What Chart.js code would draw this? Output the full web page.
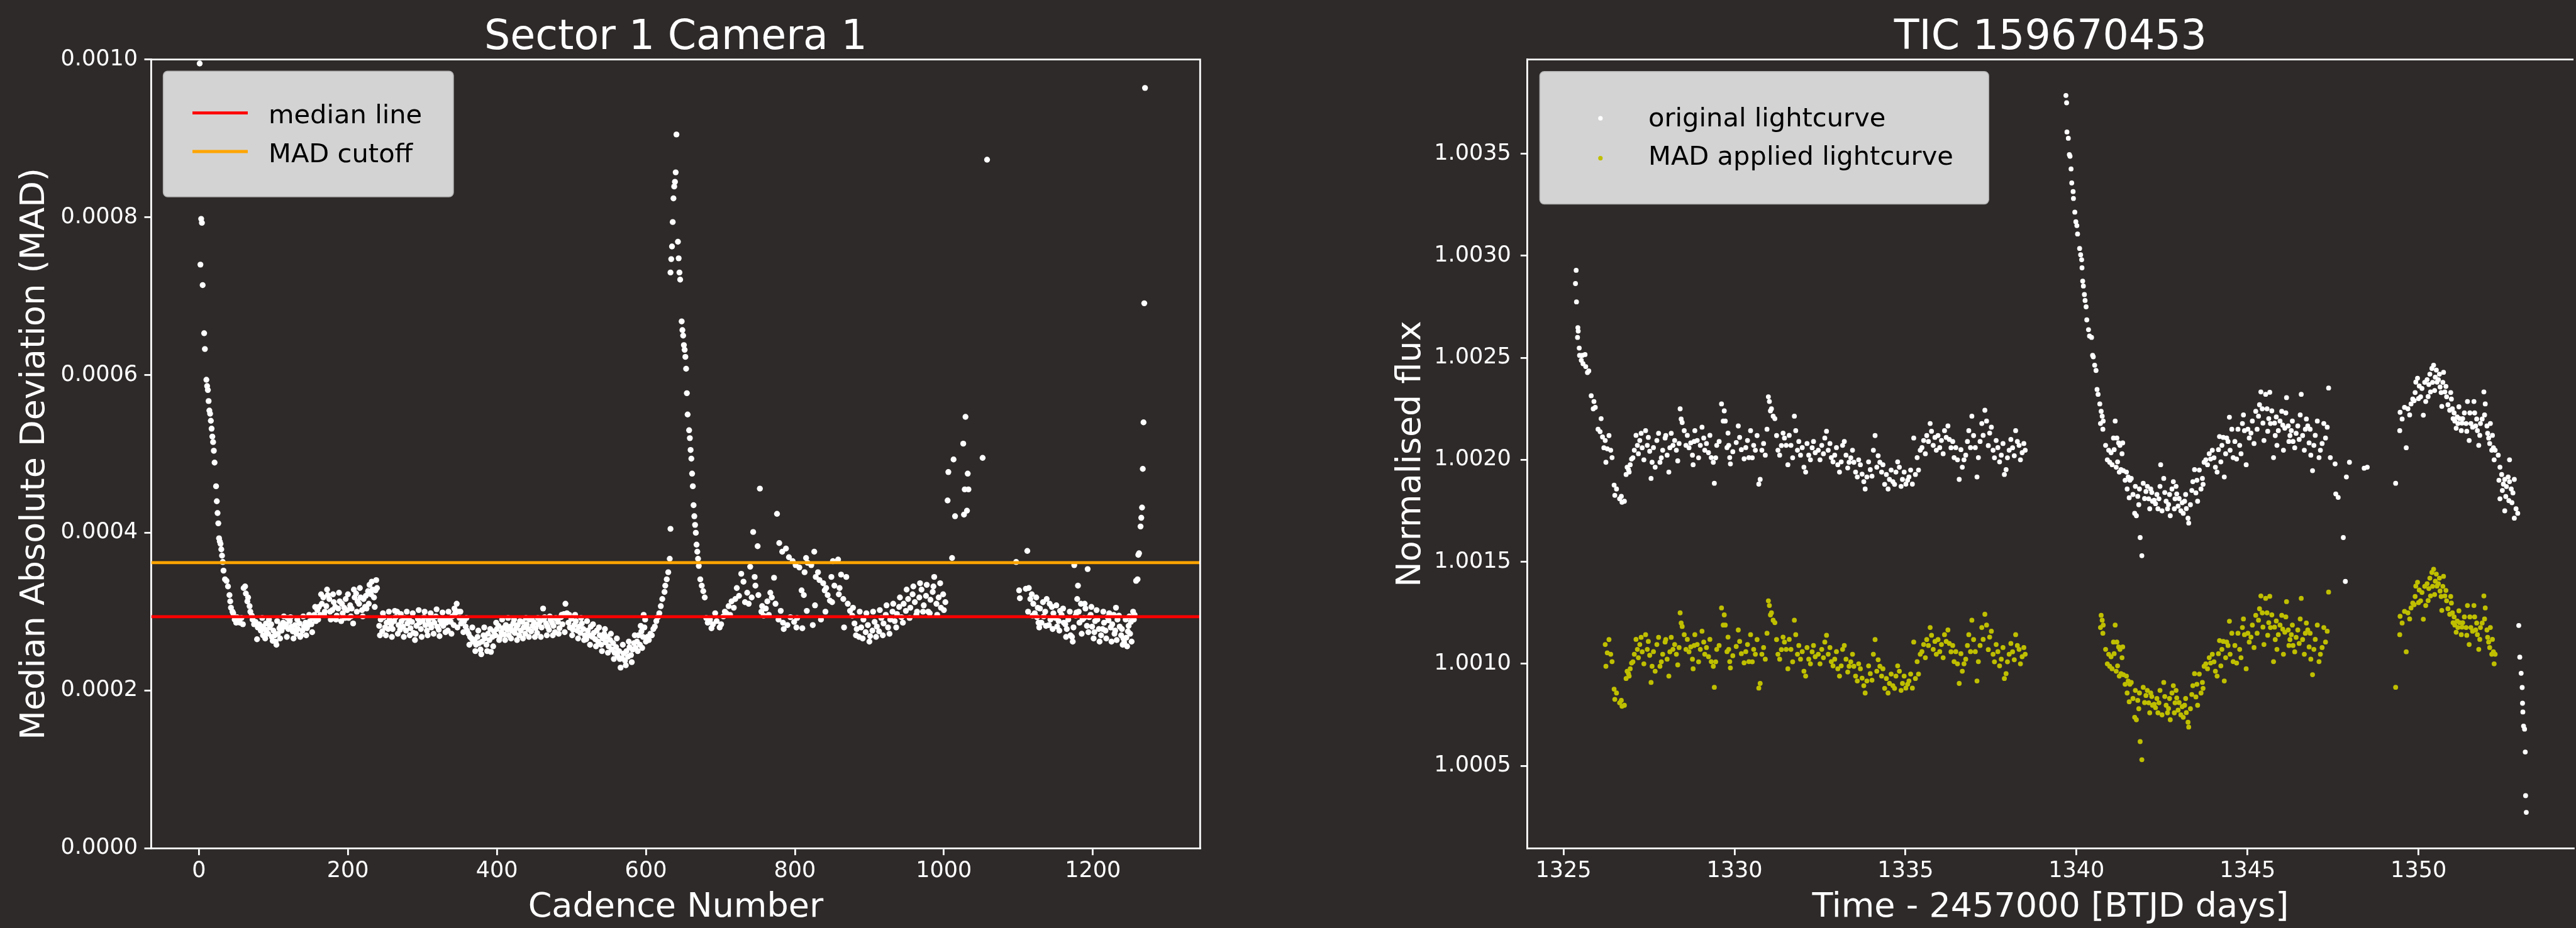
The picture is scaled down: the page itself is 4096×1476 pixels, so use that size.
<!DOCTYPE html>
<html>
<head>
<meta charset="utf-8">
<title>Sector 1 Camera 1 / TIC 159670453</title>
<script src="https://cdn.jsdelivr.net/npm/chart.js@4.4.0/dist/chart.umd.min.js"></script>
<style>
  html, body { margin: 0; padding: 0; background: #2e2a29; }
  body { width: 4096px; height: 1476px; position: relative; overflow: hidden; }
  canvas { position: absolute; top: 0; }
  #madChart { left: 0; }
  #lcChart { left: 2100px; }
</style>
</head>
<body>
<canvas id="madChart" width="2000" height="1476"></canvas>
<canvas id="lcChart" width="1996" height="1476"></canvas>
<script>
'use strict';
//___________LEFT PANEL DATA: [cadence, MAD x 1e6]__________________
var madDecline = [[1,995],[2,740],[3,798],[4,793],[5,714],[7,653],[8,633],[10,594],[11,586],[12,581],[13,567],[14,555],[15,551],[16,542],[17,532],[18,522],[19,515],[20,504],[21,489],[23,459],[24,440],[25,425],[26,412],[27,393],[28,389],[29,386],[30,379],[31,371],[32,363],[33,352],[35,341],[37,339],[39,332],[41,321]];
var madBand1 = [[42,313],[43,305],[45,300],[46,298],[48,290],[50,286],[51,293],[53,288],[55,286],[57,292],[59,284],[60,330],[62,332],[63,323],[65,313],[66,318],[68,307],[69,300],[71,295],[72,290],[74,284],[76,287],[78,265],[79,280],
  [81,284],[83,276],[85,281],[86,270],[88,278],[90,285],[91,274],[93,272],[95,280],[97,284],[98,268],[100,276],[102,270],[103,262],[104,258],[106,272],[108,279],[110,283],[111,276],[113,286],[115,281],
  [117,284],[119,292],[120,278],[122,288],[124,281],[126,275],[128,276],[129,283],[131,272],[133,278],[135,285],[137,270],[139,276],[141,281],[143,286],[145,279],[147,283],[149,288],
  [151,284],[153,292],[155,296],[157,288],[159,302],[161,306],[163,296],[165,310],[167,318],[169,300],[171,307],[173,321],[175,316],[177,290],[179,302],[181,312],[183,306],[185,295],[187,304],[189,313],[191,288],[193,298],[195,305],[197,316],[199,302],[201,292],[203,308],[205,304],[207,285],[209,318],[211,323],[213,313],[215,310],[217,318],[219,302],[221,316],[223,306],[225,304],[227,326],[229,334],[231,322],[233,328],[235,318],[237,327],[239,330]];
var madBand2 = [[242,282],[244,290],[246,275],[248,293],[250,280],[252,286],[254,278],[256,290],[258,284],[260,278],[262,288],[264,293],[266,300],[268,283],[270,277],[272,288],[274,281],[276,292],[278,276],[280,285],[282,290],[284,279],[286,287],[288,273],[290,264],[292,282],[294,291],[296,286],[298,278],[300,288],[302,293],[304,283],[306,276],[308,289],[310,284],[312,280],[314,292],[316,286],[318,294],[320,281],[322,277],[324,289],[326,285],[328,282],[330,290],[332,286],[334,276],[336,291],[338,287],[340,294],[342,283],[344,298],[346,310],
  [348,300],[350,292],[352,285],[354,290],[356,288],[358,281],[360,276],[362,272],[364,268],[366,266],[368,262],[370,264],[372,258],[374,268],[376,260],[378,252],[380,262],[382,270],[384,266],[386,258],[388,272],[390,264],[392,249],[394,268],[396,275],[398,270],
  [400,278],[402,282],[404,268],[406,274],[408,279],[410,271],[412,283],[414,277],[416,270],[418,281],[420,276],[422,285],[424,273],[426,279],[428,283],[430,270],[432,276],[434,287],[436,280],[438,272],[440,284],[442,278],[444,290],[446,275],[448,282],[450,286],[452,279],[454,273],[456,284],[458,288],[460,280],[462,304],[464,293],[466,285],[468,281],[470,277],[472,290],[474,286],[476,282],[478,274],[480,291],[482,287],[484,279],[486,293],[488,284],[490,297],[492,310],[494,298],
  [496,286],[498,280],[500,291],[502,277],[504,283],[506,288],[508,276],[510,281],[512,273],[514,285],[516,278],[518,270],[520,265],[522,276],[524,270],[526,281],[528,268],[530,273],[532,265],[534,276],[536,262],[538,270],[540,258],[542,266],[544,272],[546,261],[548,268],[550,256],[552,264],[554,252],[556,260],[558,248],[560,255],[562,244],[564,250],[566,229],[568,241],[570,247],[572,238],[574,250],[576,243],[578,255],[580,245],[582,252],[584,260],[586,254],[588,262],[590,270],[592,258],[594,275],[596,268],[597,296],[598,280],
  [600,262],[602,268],[604,264],[606,272],[608,270],[610,278],[612,281],[614,288],[616,293],[618,298],[620,307],[622,316],[625,325],[626,333],[628,341],[630,350],[632,367],[633,405]];
var madSpike = [[633,730],[634,747],[635,763],[636,794],[637,824],[638,839],[639,845],[640,857],[641,905],[643,769],[644,748],[645,730],[646,721],[648,668],[649,657],[650,650],[651,638],[652,632],[653,623],[654,608],[655,577],[656,550],[658,530],[659,520],[660,505],[661,494],[662,475],[663,459],[664,435],[665,421],[666,410],[667,400],[668,385],[669,376],[670,367],[671,358],[673,341],[675,333],[677,326],[679,318]];
var madBand3 = [[681,292],[683,286],[686,290],[688,279],[690,284],[693,298],[695,288],[699,280],[701,284],[704,294],[706,300],[708,298],[711,307],[713,296],[715,313],[718,305],[720,316],[722,330],[725,320],[728,348],[731,338],[733,312],[736,324],[738,310],[740,357],[742,318],[744,401],[746,344],[747,333],[750,383],[751,321],[753,456],[755,300],[756,307],[758,295],[761,304],[763,313],[765,296],[767,324],[769,318],[772,343],[774,310],[776,424],[778,290],[779,387],[781,301],[783,376],[784,286],[785,278],[788,380],[790,283],[792,369],[794,293],[797,364],[799,287],[801,359],[802,280],[803,292],[806,356],[809,327],[810,279],[812,321],[813,350],[815,368],[816,301],[817,362],[822,359],[824,283],[826,376],[827,308],[828,344],[831,350],[833,340],[835,290],[838,336],[840,327],[841,300],[842,330],[844,321],[847,314],[849,344],[850,312],[851,364],[853,333],[858,366],[859,322],[860,330],[862,347],[865,316],[866,280],[869,344],[871,310],[874,301],
  [877,295],[880,285],[883,278],[886,268],[889,280],[892,290],[895,274],[898,283],[901,269],[904,276],[907,287],[910,281],[913,275],[916,292],[919,285],[922,296],[925,280],[928,290],[931,300],[934,288],[937,297],[940,306],[943,293],[946,310],[949,301],[952,316],
  [955,305],[958,322],[961,312],[964,300],[967,318],[970,328],[973,308],[976,320],[979,300],[982,315],[985,325],[987,344],[990,310],[993,318],[996,305],[999,322],[1002,312],
  [1005,441],[1006,477],[1011,368],[1013,493],[1015,421],[1026,513],[1027,423],[1028,455],[1029,547],[1031,428],[1032,475],[1033,455],[1052,495],[1058,873]];
var madBand4 = [[1097,363],[1101,327],[1102,317],[1110,329],[1112,377],[1113,300],[1116,316],[1118,322],[1120,310],[1122,298],[1125,293],[1126,305],[1127,286],[1129,304],[1131,286],[1134,294],[1136,300],[1138,316],[1141,283],[1143,290],[1145,306],[1147,298],[1150,292],[1152,281],[1154,288],[1156,301],[1158,296],[1161,286],[1163,284],[1165,278],[1167,290],[1170,270],[1172,268],[1174,280],[1175,359],[1177,295],[1178,299],[1179,316],[1180,333],[1182,286],[1184,310],[1186,290],[1188,292],[1190,304],[1192,282],[1193,354],[1195,293],[1197,296],[1199,281],[1202,274],[1203,288],[1206,290],[1208,278],[1211,270],[1213,278],[1215,286],[1217,276],[1220,293],[1221,289],[1224,280],[1226,284],[1229,272],[1230,276],[1231,305],[1233,290],[1236,281],[1238,270],[1239,278],[1241,266],[1242,261],[1245,267],[1247,275],[1248,282],[1250,272],[1251,287],[1254,300],[1255,290],
  [1258,339],[1260,341],[1261,372],[1262,374],[1264,408],[1265,419],[1266,432],[1267,481],[1268,540],[1269,691],[1270,964]];
var madBandSpread = [[85,292],[89,266],[94,290],[99,263],[105,288],[109,266],[114,294],[118,268],[123,293],[127,266],[132,290],[136,268],[140,294],[144,270],[148,296],
  [152,274],[156,306],[160,290],[164,322],[168,296],[172,328],[176,300],[180,322],[184,290],[188,324],[192,310],[196,292],[200,322],[204,294],[208,328],[212,300],[216,330],[220,294],[224,320],[228,310],[232,338],[236,306],[238,340],
  [243,270],[247,298],[251,270],[255,300],[259,268],[263,301],[267,272],[271,297],[275,268],[279,300],[283,270],[287,298],[291,272],[295,302],[299,268],[303,300],[307,270],[311,298],[315,272],[319,303],[323,269],[327,299],[331,274],[335,300],[339,272],[343,304],
  [347,280],[351,300],[355,274],[359,292],[363,258],[367,280],[371,250],[375,276],[379,246],[383,280],[387,250],[391,278],[395,256],[399,286],
  [403,264],[407,290],[411,264],[415,292],[419,266],[423,290],[427,264],[431,288],[435,266],[439,292],[443,268],[447,290],[451,268],[455,292],[459,268],[463,290],[467,270],[471,294],[475,270],[479,292],[483,272],[487,296],[491,274],
  [497,296],[501,270],[505,296],[509,266],[513,292],[517,264],[521,288],[525,258],[529,284],[533,256],[537,280],[541,250],[545,278],[549,248],[553,272],[557,240],[561,266],[565,240],[569,258],[573,232],[577,262],[581,236],[585,270],[589,250],[593,282],[595,254],[599,290],
  [878,305],[882,270],[887,300],[891,266],[896,298],[900,262],[905,300],[909,268],[914,302],[918,270],[923,308],[927,272],[932,310],[936,280],[941,318],[945,286],[950,328],[954,292],[959,332],[963,296],[968,336],[972,300],[977,334],[981,298],[986,332],[991,296],[995,336],[1000,302],
  [1114,330],[1119,295],[1124,318],[1128,280],[1133,312],[1137,282],[1142,310],[1146,278],[1151,308],[1155,276],[1160,304],[1164,268],[1169,300],[1173,262],[1181,300],[1185,272],[1189,310],[1194,274],[1198,306],[1201,266],[1205,302],[1209,262],[1214,300],[1218,266],[1222,298],[1225,262],[1228,296],[1232,264],[1235,295],[1240,258],[1244,290],[1246,256],[1249,294],[1252,262],[1256,296]];
var medianMad = 0.0002936;
var madCutoff = 0.0003621;

//___________RIGHT PANEL DATA: [BTJD, (flux - 1) x 1e6]__________________
var origOrbit1 = [[1325.35,2864],[1325.37,2929],[1325.38,2774],[1325.41,2600],[1325.42,2648],[1325.43,2631],[1325.46,2548],[1325.47,2512],[1325.52,2488],[1325.55,2512],[1325.57,2471],[1325.63,2516],[1325.65,2457],[1325.70,2428],[1325.74,2436],[1325.81,2314],[1325.87,2250],[1325.89,2286],[1325.93,2257],[1326.01,2150],[1326.07,2138],[1326.10,2202],[1326.14,2112],[1326.18,2059],
  [1326.22,2095],[1326.24,1988],[1326.28,2054],[1326.33,2119],[1326.38,2047],[1326.42,2011],[1326.48,1876],[1326.50,1826],[1326.55,1857],[1326.64,1809],[1326.69,1821],[1326.71,1792],[1326.78,1797],[1326.83,1928],[1326.86,1964],[1326.90,1952],[1326.92,1940],[1326.95,1976],[1326.99,2004],[1327.07,2047],[1327.16,2071],[1327.23,2095],[1327.30,2059],[1327.40,2143],[1327.45,2071],[1327.52,2042],[1327.56,1909],[1327.59,1988],[1327.68,1964],[1327.73,2095],[1327.82,1988],[1327.90,2047],[1327.97,2107],[1327.99,2119],[1328.03,2023],[1328.08,1940],[1328.11,2059],[1328.20,2071],[1328.25,2095],[1328.30,2047],[1328.34,1995],[1328.41,2250],[1328.47,2183],[1328.53,2143],[1328.58,2071],[1328.67,2059],[1328.72,2083],[1328.77,2023],[1328.79,1976],[1328.84,2143],[1328.91,2095],[1329.00,2071],[1329.10,2107],[1329.13,2047],[1329.24,2035],[1329.32,2011],[1329.38,1988],[1329.41,1885],[1329.48,2071],[1329.62,2274],[1329.67,2190],[1329.73,2190],[1329.81,2131],[1329.83,2071],[1329.86,2011],[1329.88,1980],[1329.95,2040],[1330.05,2085],[1330.11,2166],[1330.20,2050],[1330.28,2005],
  [1330.38,2095],[1330.42,2011],[1330.47,2143],[1330.56,2071],[1330.61,2047],[1330.66,2119],[1330.71,1881],[1330.75,1904],[1330.80,2047],[1330.90,2023],[1330.99,2309],[1331.02,2286],[1331.08,2250],[1331.13,2214],[1331.18,2202],[1331.23,2119],[1331.27,2047],[1331.32,2023],[1331.42,2131],[1331.46,2107],[1331.51,2071],[1331.56,1976],[1331.65,2071],[1331.75,2214],[1331.79,2143],[1331.84,2047],[1331.93,2023],[1332.03,1964],[1332.08,1940],[1332.17,2023],[1332.27,2059],[1332.36,2035],[1332.45,2047],[1332.55,2071],[1332.64,2107],[1332.74,2047],[1332.83,2011],[1332.93,2023],[1333.02,1976],[1333.07,1940],[1333.16,2071],[1333.26,2023],[1333.35,1988],[1333.45,2047],[1333.49,1988],[1333.54,1940],[1333.59,1916],[1333.68,1976],[1333.78,1893],[1333.82,1857],[1333.87,1916],[1333.97,1952],[1334.06,2047],[1334.11,2119],[1334.16,1964],[1334.25,1988],[1334.30,1940],[1334.34,1976],[1334.44,1928],[1334.49,1857],[1334.53,1904],[1334.63,1893],[1334.72,1940],[1334.82,1964],[1334.91,1904],[1335.01,1881],[1335.10,1916],[1335.20,1881],
  [1335.24,2107],[1335.29,1928],[1335.34,2011],[1335.43,2047],[1335.53,2095],[1335.62,2119],[1335.72,2178],[1335.81,2071],[1335.90,2047],[1335.95,2119],[1336.05,2095],[1336.14,2143],[1336.24,2166],[1336.33,2059],[1336.42,2011],[1336.52,2000],[1336.57,1904],[1336.66,1964],[1336.76,2023],[1336.85,2143],[1336.94,2214],[1336.99,2119],[1337.09,1916],[1337.13,2011],[1337.23,2178],[1337.32,2243],[1337.37,2190],[1337.46,2131],[1337.56,2047],[1337.65,2095],[1337.80,2023],[1337.89,1928],[1337.94,1952],[1338.03,2047],[1338.13,2059],[1338.22,2143],[1338.32,2071],[1338.41,2035],[1338.50,2047]];
var origExtra1 = [[1327.03,2010],[1327.12,2120],[1327.19,2030],[1327.27,2130],[1327.35,2000],[1327.48,2110],[1327.63,2060],[1327.78,2130],[1327.86,2010],[1328.15,2130],[1328.38,2080],[1328.44,2200],[1328.62,2120],[1328.82,2090],[1328.95,2010],[1329.05,2160],[1329.18,2080],[1329.28,2120],[1329.45,2010],[1329.55,2090],[1329.70,2240],[1329.78,2060],[1330.15,2110],[1330.33,2060],[1330.52,2010],[1330.85,2080],[1330.95,2150],[1331.05,2240],[1331.37,2070],[1331.60,2120],[1331.70,2010],[1331.88,2090],[1331.98,2060],[1332.12,2080],[1332.22,2000],[1332.31,2090],[1332.50,2000],[1332.60,2030],[1332.69,2140],[1332.79,2080],[1332.88,1990],[1332.98,2060],[1333.12,1990],[1333.21,2090],[1333.31,1960],[1333.40,2010],[1333.63,2000],[1333.73,1930],[1333.92,1990],[1334.02,1920],[1334.20,2020],[1334.39,1880],[1334.58,1950],[1334.68,1880],[1334.77,1990],[1334.87,1870],[1334.96,1940],[1335.06,1900],[1335.15,1950],[1335.38,1950],[1335.48,2060],[1335.58,2030],[1335.67,2090],[1335.76,2140],[1335.86,2110],[1336.00,2060],[1336.10,2030],[1336.19,2110],[1336.28,2100],[1336.38,2090],[1336.47,2060],[1336.62,2050],[1336.71,2000],[1336.81,2090],[1336.90,2060],[1337.04,2060],[1337.18,2090],[1337.27,2120],[1337.42,2070],[1337.51,2160],[1337.60,2010],[1337.70,2060],[1337.75,1990],[1337.85,2080],[1337.98,2010],[1338.08,2100],[1338.18,2020],[1338.27,2090],[1338.36,2000],[1338.46,2080]];
var origOrbit2 = [[1339.69,3786],[1339.71,3750],[1339.72,3607],[1339.76,3576],[1339.79,3496],[1339.81,3488],[1339.84,3426],[1339.86,3357],[1339.90,3315],[1339.91,3281],[1339.95,3214],[1339.98,3167],[1340.01,3148],[1340.03,3107],[1340.09,3036],[1340.12,3005],[1340.15,2981],[1340.16,2941],[1340.18,2876],[1340.20,2852],[1340.23,2810],[1340.25,2781],[1340.28,2750],[1340.30,2686],[1340.35,2638],[1340.38,2607],[1340.44,2600],[1340.47,2512],[1340.49,2505],[1340.53,2464],[1340.57,2438],[1340.60,2345],[1340.63,2321],[1340.68,2274],
  [1340.70,2178],[1340.72,2238],[1340.75,2214],[1340.77,2150],[1340.78,2190],[1340.85,2071],[1340.90,2000],[1340.94,2047],[1340.97,1988],[1341.01,2035],[1341.04,1976],[1341.08,2107],[1341.13,2190],[1341.16,1964],[1341.18,2107],[1341.23,2083],[1341.25,1940],[1341.27,2071],[1341.30,1952],[1341.35,2083],[1341.37,1947],[1341.46,1940],[1341.48,1857],[1341.51,1916],[1341.54,1814],[1341.56,1900],[1341.60,1909],[1341.70,1738],[1341.75,1726],[1341.79,1821],[1341.84,1857],[1341.86,1619],[1341.91,1530],[1341.95,1885],[1342.03,1845],[1342.11,1809],[1342.17,1857],[1342.22,1797],[1342.27,1802],[1342.31,1785],[1342.41,1809],[1342.46,1976],[1342.50,1750],[1342.55,1909],[1342.62,1797],[1342.69,1781],[1342.74,1726],[1342.79,1857],[1342.83,1893],[1342.88,1809],[1342.93,1833],[1342.97,1773],[1343.05,1750],[1343.12,1738],[1343.16,1797],[1343.21,1761],[1343.26,1714],[1343.28,1690],
  [1343.40,1893],[1343.45,1952],[1343.49,1838],[1343.54,1797],[1343.64,1857],[1343.68,1909],[1343.73,1988],[1343.78,2000],[1343.83,1976],[1343.92,2004],[1343.97,2047],[1344.06,1964],[1344.11,1940],[1344.18,2114],[1344.25,2071],[1344.32,1916],[1344.39,2107],[1344.47,2209],[1344.49,2047],[1344.58,2011],[1344.68,2004],[1344.77,2071],[1344.85,2178],[1344.91,2143],[1344.96,1976],[1345.05,2107],[1345.10,2131],[1345.24,2238],[1345.32,2214],[1345.39,2333],[1345.43,2250],[1345.48,2095],[1345.53,2321],[1345.57,2250],[1345.62,2202],[1345.65,2331],[1345.67,2178],[1345.76,2011],[1345.81,2119],[1345.86,2071],[1345.90,2143],[1346.00,2238],[1346.05,2047],[1346.09,2155],[1346.14,2305],[1346.19,2166],[1346.24,2119],[1346.28,2143],[1346.33,2090],[1346.38,2059],[1346.47,2166],[1346.57,2321],[1346.61,2119],[1346.66,2047],[1346.76,2166],[1346.80,2083],[1346.85,2023],[1346.90,1947],[1346.94,2071],[1347.09,2011],[1347.13,2047],[1347.23,2178],[1347.28,2107],[1347.37,2352],
  [1347.42,2011],[1347.56,1980],[1347.58,1833],[1347.65,1816],[1347.80,1619],[1347.86,1404],[1347.89,1916],[1347.98,1988],[1348.41,1959],[1348.50,1964],
  [1349.33,1885],[1349.45,2143],[1349.64,2059],[1349.46,2233],[1349.59,2257],[1349.69,2250],[1349.78,2274],[1349.83,2298],[1349.87,2290],[1349.92,2381],[1349.97,2400],[1350.02,2362],[1350.06,2309],[1350.14,2219],[1350.21,2286],[1350.25,2393],[1350.30,2369],[1350.35,2333],[1350.39,2448],[1350.44,2464],[1350.49,2405],[1350.54,2381],[1350.58,2393],[1350.63,2357],[1350.68,2262],[1350.73,2429],[1350.77,2333],[1350.82,2309],[1350.91,2243],[1350.96,2298],[1351.01,2202],[1351.06,2190],[1351.10,2155],[1351.15,2178],[1351.20,2202],[1351.25,2143],[1351.29,2202],[1351.39,2178],[1351.43,2286],[1351.48,2095],[1351.53,2178],[1351.62,2286],[1351.67,2166],[1351.72,2143],[1351.76,2071],[1351.81,2178],[1351.91,2333],[1351.95,2274],[1352.00,2166],[1352.05,2107],[1352.10,2178],[1352.14,2047],[1352.19,2059],[1352.24,2047],
  [1352.33,2023],[1352.38,1964],[1352.43,1928],[1352.48,1881],[1352.52,1904],[1352.57,1869],[1352.62,1916],[1352.66,1893],[1352.71,1857],[1352.76,1838],[1352.80,1904],[1352.38,1809],[1352.52,1750],[1352.66,2000],[1352.80,1714],[1352.90,1738],
  [1352.93,1188],[1352.96,1033],[1353.00,954],[1353.03,884],[1353.04,807],[1353.05,764],[1353.07,695],[1353.10,680],[1353.12,568],[1353.13,354],[1353.15,272]];
var origExtra2 = [[1341.10,2050],[1341.20,1990],[1341.33,2030],[1341.42,1900],[1341.65,1830],[1341.72,1870],[1341.82,1780],[1341.99,1810],[1342.07,1870],[1342.14,1760],[1342.20,1840],[1342.35,1830],[1342.38,1760],[1342.44,1870],[1342.58,1840],[1342.66,1760],[1342.72,1830],[1342.86,1760],[1342.91,1870],[1343.00,1810],[1343.09,1790],[1343.19,1830],[1343.33,1780],[1343.37,1850],[1343.52,1900],[1343.59,1950],[1343.70,1880],[1343.88,2030],[1344.02,2010],[1344.15,2050],[1344.22,1990],[1344.29,2110],[1344.36,2030],[1344.43,2090],[1344.54,2150],[1344.63,2090],[1344.72,2150],[1344.81,2030],[1344.88,2220],[1345.01,2150],[1345.14,2190],[1345.19,2080],[1345.28,2150],[1345.35,2270],[1345.45,2180],[1345.59,2140],[1345.71,2240],[1345.79,2180],[1345.84,2210],[1345.95,2190],[1346.03,2170],[1346.12,2230],[1346.21,2090],[1346.31,2190],[1346.42,2130],[1346.51,2100],[1346.54,2220],[1346.69,2150],[1346.72,2200],[1346.83,2150],[1346.98,2120],[1347.04,2190],[1347.18,2080],[1347.33,2160],
  [1349.52,2200],[1349.74,2220],[1349.90,2330],[1350.00,2300],[1350.10,2350],[1350.18,2380],[1350.28,2310],[1350.33,2420],[1350.41,2380],[1350.47,2340],[1350.52,2440],[1350.61,2420],[1350.66,2330],[1350.71,2380],[1350.80,2360],[1350.86,2270],[1350.94,2330],[1350.99,2250],[1351.04,2230],[1351.13,2210],[1351.18,2260],[1351.27,2180],[1351.34,2230],[1351.41,2140],[1351.50,2230],[1351.58,2160],[1351.64,2230],[1351.70,2200],[1351.79,2120],[1351.86,2200],[1351.93,2220],[1352.02,2130],[1352.08,2080],[1352.16,2120],[1352.21,2000],
  [1352.35,1900],[1352.45,1850],[1352.55,1820],[1352.64,1800],[1352.73,1790],[1352.85,1760]];
var madOrbit1 = [[1326.22,1095],[1326.24,988],[1326.28,1054],[1326.33,1119],[1326.38,1047],[1326.42,1011],[1326.48,876],[1326.50,826],[1326.55,857],[1326.64,809],[1326.69,821],[1326.71,792],[1326.78,797],[1326.83,928],[1326.86,964],[1326.90,952],[1326.92,940],[1326.95,976],[1326.99,1004],[1327.07,1047],[1327.16,1071],[1327.23,1095],[1327.30,1059],[1327.40,1143],[1327.45,1071],[1327.52,1042],[1327.56,909],[1327.59,988],[1327.68,964],[1327.73,1095],[1327.82,988],[1327.90,1047],[1327.97,1107],[1327.99,1119],[1328.03,1023],[1328.08,940],[1328.11,1059],[1328.20,1071],[1328.25,1095],[1328.30,1047],[1328.34,995],[1328.41,1250],[1328.47,1183],[1328.53,1143],[1328.58,1071],[1328.67,1059],[1328.72,1083],[1328.77,1023],[1328.79,976],[1328.84,1143],[1328.91,1095],[1329.00,1071],[1329.10,1107],[1329.13,1047],[1329.24,1035],[1329.32,1011],[1329.38,988],[1329.41,885],[1329.48,1071],[1329.62,1274],[1329.67,1190],[1329.73,1190],[1329.81,1131],[1329.83,1071],[1329.86,1011],[1329.88,980],[1329.95,1040],[1330.05,1085],[1330.11,1166],[1330.20,1050],[1330.28,1005],
  [1330.38,1095],[1330.42,1011],[1330.47,1143],[1330.56,1071],[1330.61,1047],[1330.66,1119],[1330.71,881],[1330.75,904],[1330.80,1047],[1330.90,1023],[1330.99,1309],[1331.02,1286],[1331.08,1250],[1331.13,1214],[1331.18,1202],[1331.23,1119],[1331.27,1047],[1331.32,1023],[1331.42,1131],[1331.46,1107],[1331.51,1071],[1331.56,976],[1331.65,1071],[1331.75,1214],[1331.79,1143],[1331.84,1047],[1331.93,1023],[1332.03,964],[1332.08,940],[1332.17,1023],[1332.27,1059],[1332.36,1035],[1332.45,1047],[1332.55,1071],[1332.64,1107],[1332.74,1047],[1332.83,1011],[1332.93,1023],[1333.02,976],[1333.07,940],[1333.16,1071],[1333.26,1023],[1333.35,988],[1333.45,1047],[1333.49,988],[1333.54,940],[1333.59,916],[1333.68,976],[1333.78,893],[1333.82,857],[1333.87,916],[1333.97,952],[1334.06,1047],[1334.11,1119],[1334.16,964],[1334.25,988],[1334.30,940],[1334.34,976],[1334.44,928],[1334.49,857],[1334.53,904],[1334.63,893],[1334.72,940],[1334.82,964],[1334.91,904],[1335.01,881],[1335.10,916],[1335.20,881],
  [1335.24,1107],[1335.29,928],[1335.34,1011],[1335.43,1047],[1335.53,1095],[1335.62,1119],[1335.72,1178],[1335.81,1071],[1335.90,1047],[1335.95,1119],[1336.05,1095],[1336.14,1143],[1336.24,1166],[1336.33,1059],[1336.42,1011],[1336.52,1000],[1336.57,904],[1336.66,964],[1336.76,1023],[1336.85,1143],[1336.94,1214],[1336.99,1119],[1337.09,916],[1337.13,1011],[1337.23,1178],[1337.32,1243],[1337.37,1190],[1337.46,1131],[1337.56,1047],[1337.65,1095],[1337.80,1023],[1337.89,928],[1337.94,952],[1338.03,1047],[1338.13,1059],[1338.22,1143],[1338.32,1071],[1338.41,1035],[1338.50,1047]];
var madExtra1 = [[1327.03,1010],[1327.12,1120],[1327.19,1030],[1327.27,1130],[1327.35,1000],[1327.48,1110],[1327.63,1060],[1327.78,1130],[1327.86,1010],[1328.15,1130],[1328.38,1080],[1328.44,1200],[1328.62,1120],[1328.82,1090],[1328.95,1010],[1329.05,1160],[1329.18,1080],[1329.28,1120],[1329.45,1010],[1329.55,1090],[1329.70,1240],[1329.78,1060],[1330.15,1110],[1330.33,1060],[1330.52,1010],[1330.85,1080],[1330.95,1150],[1331.05,1240],[1331.37,1070],[1331.60,1120],[1331.70,1010],[1331.88,1090],[1331.98,1060],[1332.12,1080],[1332.22,1000],[1332.31,1090],[1332.50,1000],[1332.60,1030],[1332.69,1140],[1332.79,1080],[1332.88,990],[1332.98,1060],[1333.12,990],[1333.21,1090],[1333.31,960],[1333.40,1010],[1333.63,1000],[1333.73,930],[1333.92,990],[1334.02,920],[1334.20,1020],[1334.39,880],[1334.58,950],[1334.68,880],[1334.77,990],[1334.87,870],[1334.96,940],[1335.06,900],[1335.15,950],[1335.38,950],[1335.48,1060],[1335.58,1030],[1335.67,1090],[1335.76,1140],[1335.86,1110],[1336.00,1060],[1336.10,1030],[1336.19,1110],[1336.28,1100],[1336.38,1090],[1336.47,1060],[1336.62,1050],[1336.71,1000],[1336.81,1090],[1336.90,1060],[1337.04,1060],[1337.18,1090],[1337.27,1120],[1337.42,1070],[1337.51,1160],[1337.60,1010],[1337.70,1060],[1337.75,990],[1337.85,1080],[1337.98,1010],[1338.08,1100],[1338.18,1020],[1338.27,1090],[1338.36,1000],[1338.46,1080]];
var madOrbit2 = [[1340.70,1178],[1340.72,1238],[1340.75,1214],[1340.77,1150],[1340.78,1190],[1340.85,1071],[1340.90,1000],[1340.94,1047],[1340.97,988],[1341.01,1035],[1341.04,976],[1341.08,1107],[1341.13,1190],[1341.16,964],[1341.18,1107],[1341.23,1083],[1341.25,940],[1341.27,1071],[1341.30,952],[1341.35,1083],[1341.37,947],[1341.46,940],[1341.48,857],[1341.51,916],[1341.54,814],[1341.56,900],[1341.60,909],[1341.70,738],[1341.75,726],[1341.79,821],[1341.84,857],[1341.86,619],[1341.91,530],[1341.95,885],[1342.03,845],[1342.11,809],[1342.17,857],[1342.22,797],[1342.27,802],[1342.31,785],[1342.41,809],[1342.50,750],[1342.55,909],[1342.62,797],[1342.69,781],[1342.74,726],[1342.79,857],[1342.83,893],[1342.88,809],[1342.93,833],[1342.97,773],[1343.05,750],[1343.12,738],[1343.16,797],[1343.21,761],[1343.26,714],[1343.28,690],
  [1343.40,893],[1343.45,952],[1343.49,838],[1343.54,797],[1343.64,857],[1343.68,909],[1343.73,988],[1343.78,1000],[1343.83,976],[1343.92,1004],[1343.97,1047],[1344.06,964],[1344.11,940],[1344.18,1114],[1344.25,1071],[1344.32,916],[1344.39,1107],[1344.47,1209],[1344.49,1047],[1344.58,1011],[1344.68,1004],[1344.77,1071],[1344.85,1178],[1344.91,1143],[1344.96,976],[1345.05,1107],[1345.10,1131],[1345.24,1238],[1345.32,1214],[1345.39,1333],[1345.43,1250],[1345.48,1095],[1345.53,1321],[1345.57,1250],[1345.62,1202],[1345.65,1331],[1345.67,1178],[1345.76,1011],[1345.81,1119],[1345.86,1071],[1345.90,1143],[1346.00,1238],[1346.05,1047],[1346.09,1155],[1346.14,1305],[1346.19,1166],[1346.24,1119],[1346.28,1143],[1346.33,1090],[1346.38,1059],[1346.47,1166],[1346.57,1321],[1346.61,1119],[1346.66,1047],[1346.76,1166],[1346.80,1083],[1346.85,1023],[1346.90,947],[1346.94,1071],[1347.09,1011],[1347.13,1047],[1347.23,1178],[1347.28,1107],[1347.37,1352],
  [1349.33,885],[1349.45,1143],[1349.64,1059],[1349.46,1233],[1349.59,1257],[1349.69,1250],[1349.78,1274],[1349.83,1298],[1349.87,1290],[1349.92,1381],[1349.97,1400],[1350.02,1362],[1350.06,1309],[1350.14,1219],[1350.21,1286],[1350.25,1393],[1350.30,1369],[1350.35,1333],[1350.39,1448],[1350.44,1464],[1350.49,1405],[1350.54,1381],[1350.58,1393],[1350.63,1357],[1350.68,1262],[1350.73,1429],[1350.77,1333],[1350.82,1309],[1350.91,1243],[1350.96,1298],[1351.01,1202],[1351.06,1190],[1351.10,1155],[1351.15,1178],[1351.20,1202],[1351.25,1143],[1351.29,1202],[1351.39,1178],[1351.43,1286],[1351.48,1095],[1351.53,1178],[1351.62,1286],[1351.67,1166],[1351.72,1143],[1351.76,1071],[1351.81,1178],[1351.91,1333],[1351.95,1274],[1352.00,1166],[1352.05,1107],[1352.10,1178],[1352.14,1047],[1352.19,1059],[1352.24,1047]];
var madExtra2 = [[1341.10,1050],[1341.20,990],[1341.33,1030],[1341.42,900],[1341.65,830],[1341.72,870],[1341.82,780],[1341.99,810],[1342.07,870],[1342.14,760],[1342.20,840],[1342.35,830],[1342.38,760],[1342.44,870],[1342.58,840],[1342.66,760],[1342.72,830],[1342.86,760],[1342.91,870],[1343.00,810],[1343.09,790],[1343.19,830],[1343.33,780],[1343.37,850],[1343.52,900],[1343.59,950],[1343.70,880],[1343.88,1030],[1344.02,1010],[1344.15,1050],[1344.22,990],[1344.29,1110],[1344.36,1030],[1344.43,1090],[1344.54,1150],[1344.63,1090],[1344.72,1150],[1344.81,1030],[1344.88,1220],[1345.01,1150],[1345.14,1190],[1345.19,1080],[1345.28,1150],[1345.35,1270],[1345.45,1180],[1345.59,1140],[1345.71,1240],[1345.79,1180],[1345.84,1210],[1345.95,1190],[1346.03,1170],[1346.12,1230],[1346.21,1090],[1346.31,1190],[1346.42,1130],[1346.51,1100],[1346.54,1220],[1346.69,1150],[1346.72,1200],[1346.83,1150],[1346.98,1120],[1347.04,1190],[1347.18,1080],[1347.33,1160],
  [1349.52,1200],[1349.74,1220],[1349.90,1330],[1350.00,1300],[1350.10,1350],[1350.18,1380],[1350.28,1310],[1350.33,1420],[1350.41,1380],[1350.47,1340],[1350.52,1440],[1350.61,1420],[1350.66,1330],[1350.71,1380],[1350.80,1360],[1350.86,1270],[1350.94,1330],[1350.99,1250],[1351.04,1230],[1351.13,1210],[1351.18,1260],[1351.27,1180],[1351.34,1230],[1351.41,1140],[1351.50,1230],[1351.58,1160],[1351.64,1230],[1351.70,1200],[1351.79,1120],[1351.86,1200],[1351.93,1220],[1352.02,1130],[1352.08,1080],[1352.16,1120],[1352.21,1000]];

//___________AXES / TICKS__________________
var cadenceTicks = [0, 200, 400, 600, 800, 1000, 1200];
var madTicks = [0, 0.0002, 0.0004, 0.0006, 0.0008, 0.001];
var timeTicks = [1325, 1330, 1335, 1340, 1345, 1350];
var fluxTicks = [1.0005, 1.001, 1.0015, 1.002, 1.0025, 1.003, 1.0035];
var cadenceRange = [-64, 1344];
var madRange = [0, 0.001];
var timeRange = [1323.947, 1354.53];
var fluxRange = [1.000096, 1.003962];

var FONT = '"DejaVu Sans", sans-serif';
var SPINE = '#ffffff';
var SPINE_W = 2.8;
Chart.defaults.font.family = FONT;
Chart.defaults.color = '#ffffff';

function madPoints(list) {
  return list.map(function (p) { return {x: p[0], y: p[1] * 1e-6}; });
}
function fluxPoints(list) {
  return list.map(function (p) { return {x: p[0], y: 1 + p[1] * 1e-6}; });
}
function fixedTicks(values) {
  return function (scale) { scale.ticks = values.map(function (v) { return {value: v}; }); };
}
function axis(range, ticks, fmt, pad, fit) {
  return {
    type: 'linear', min: range[0], max: range[1],
    afterBuildTicks: fixedTicks(ticks),
    afterFit: fit,
    grid: {drawOnChartArea: false, drawTicks: true, color: SPINE, tickLength: 11, lineWidth: SPINE_W},
    border: {display: true, color: SPINE, width: SPINE_W},
    ticks: {font: {size: 35}, color: '#ffffff', padding: pad, autoSkip: false, maxRotation: 0, callback: fmt}
  };
}

//___________TEXT, LEGEND AND OPEN SPINES__________________
function decor(cfg) {
  return {
    id: 'decor',
    afterDraw: function (chart) {
      var ctx = chart.ctx, a = chart.chartArea, ds = chart.data.datasets;
      ctx.save();
      ctx.strokeStyle = SPINE; ctx.lineWidth = SPINE_W;
      ctx.beginPath();
      ctx.moveTo(a.left - SPINE_W / 2, a.top);
      ctx.lineTo(a.right, a.top);
      if (cfg.rightSpine) ctx.lineTo(a.right, a.bottom + SPINE_W / 2);
      ctx.stroke();

      var cx = (a.left + a.right) / 2;
      ctx.fillStyle = '#ffffff';
      ctx.textAlign = 'center';
      ctx.textBaseline = 'alphabetic';
      ctx.font = '65px ' + FONT;
      ctx.fillText(cfg.title, cx, 78.4);
      ctx.font = '54px ' + FONT;
      ctx.fillText(cfg.xLabel, cx, 1457.6);
      ctx.save();
      ctx.translate(cfg.yLabelX, (a.top + a.bottom) / 2);
      ctx.rotate(-Math.PI / 2);
      ctx.fillText(cfg.yLabel, 0, 0);
      ctx.restore();

      var b = cfg.legend;
      ctx.beginPath();
      var r = 7;
      ctx.moveTo(b.x + r, b.y);
      ctx.arcTo(b.x + b.w, b.y, b.x + b.w, b.y + b.h, r);
      ctx.arcTo(b.x + b.w, b.y + b.h, b.x, b.y + b.h, r);
      ctx.arcTo(b.x, b.y + b.h, b.x, b.y, r);
      ctx.arcTo(b.x, b.y, b.x + b.w, b.y, r);
      ctx.closePath();
      ctx.fillStyle = '#d3d3d3';
      ctx.fill();
      ctx.strokeStyle = '#b4b4b4'; ctx.lineWidth = 1.5;
      ctx.stroke();
      ctx.font = '41.6px ' + FONT;
      ctx.textAlign = 'left';
      b.items.forEach(function (it) {
        var d = ds[it.dataset];
        if (it.kind === 'line') {
          ctx.strokeStyle = d.borderColor; ctx.lineWidth = d.borderWidth;
          ctx.beginPath(); ctx.moveTo(b.hx0, it.hy); ctx.lineTo(b.hx1, it.hy); ctx.stroke();
        } else {
          ctx.fillStyle = d.pointBackgroundColor;
          ctx.beginPath(); ctx.arc(b.hx0, it.hy, 3.6, 0, Math.PI * 2); ctx.fill();
        }
        ctx.fillStyle = '#000000';
        ctx.fillText(d.label, b.tx, it.ty);
      });
      ctx.restore();
    }
  };
}

//___________LEFT: MAD PER CADENCE__________________
new Chart(document.getElementById('madChart'), {
  type: 'scatter',
  data: {
    datasets: [
      {type: 'line', label: 'median line', order: 0, borderColor: '#ff0000', borderWidth: 4.8, pointRadius: 0, fill: false,
        data: [{x: cadenceRange[0], y: medianMad}, {x: cadenceRange[1], y: medianMad}]},
      {type: 'line', label: 'MAD cutoff', order: 0, borderColor: '#ffa500', borderWidth: 4.8, pointRadius: 0, fill: false,
        data: [{x: cadenceRange[0], y: madCutoff}, {x: cadenceRange[1], y: madCutoff}]},
      {label: 'MAD', order: 1, pointRadius: 4.7, pointBorderWidth: 0, pointBackgroundColor: '#ffffff',
        data: madPoints([].concat(madDecline, madBand1, madBand2, madSpike, madBand3, madBand4, madBandSpread))}
    ]
  },
  options: {
    responsive: false, animation: false, devicePixelRatio: 1, events: [],
    layout: {padding: {left: 0, right: 91.7, top: 94.7, bottom: 0}},
    plugins: {legend: {display: false}, tooltip: {enabled: false}},
    scales: {
      x: axis(cadenceRange, cadenceTicks, function (v) { return String(v); }, 4.5,
        function (s) { s.height = 126.8; }),
      y: axis(madRange, madTicks, function (v) { return v.toFixed(4); }, 10.5,
        function (s) { s.width = 240.5; })
    }
  },
  plugins: [decor({
    title: 'Sector 1 Camera 1', xLabel: 'Cadence Number', yLabel: 'Median Absolute Deviation (MAD)',
    yLabelX: 69.5, rightSpine: true,
    legend: {x: 259.6, y: 113.3, w: 461.4, h: 199.8, hx0: 306, hx1: 394, tx: 427,
      items: [{dataset: 0, kind: 'line', hy: 179.6, ty: 196.3}, {dataset: 1, kind: 'line', hy: 241, ty: 257.6}]}
  })]
});

//___________RIGHT: LIGHTCURVES__________________
new Chart(document.getElementById('lcChart'), {
  type: 'scatter',
  data: {
    datasets: [
      {label: 'original lightcurve', pointRadius: 3.9, pointBorderWidth: 0, pointBackgroundColor: '#ffffff',
        data: fluxPoints([].concat(origOrbit1, origExtra1, origOrbit2, origExtra2))},
      {label: 'MAD applied lightcurve', pointRadius: 3.9, pointBorderWidth: 0, pointBackgroundColor: '#bfbf00',
        data: fluxPoints([].concat(madOrbit1, madExtra1, madOrbit2, madExtra2))}
    ]
  },
  options: {
    responsive: false, animation: false, devicePixelRatio: 1, events: [],
    layout: {padding: {left: 0, right: 0, top: 94.7, bottom: 0}},
    plugins: {legend: {display: false}, tooltip: {enabled: false}},
    scales: {
      x: axis(timeRange, timeTicks, function (v) { return String(v); }, 4.5,
        function (s) { s.height = 126.8; }),
      y: axis(fluxRange, fluxTicks, function (v) { return v.toFixed(4); }, 15,
        function (s) { s.width = 328.8; })
    }
  },
  plugins: [decor({
    title: 'TIC 159670453', xLabel: 'Time - 2457000 [BTJD days]', yLabel: 'Normalised flux',
    yLabelX: 158, rightSpine: false,
    legend: {x: 348.4, y: 113.7, w: 713.8, h: 210.8, hx0: 444.8, tx: 521,
      items: [{dataset: 0, kind: 'dot', hy: 188.2, ty: 201.4}, {dataset: 1, kind: 'dot', hy: 251.6, ty: 261.6}]}
  })]
});
</script>
</body>
</html>
